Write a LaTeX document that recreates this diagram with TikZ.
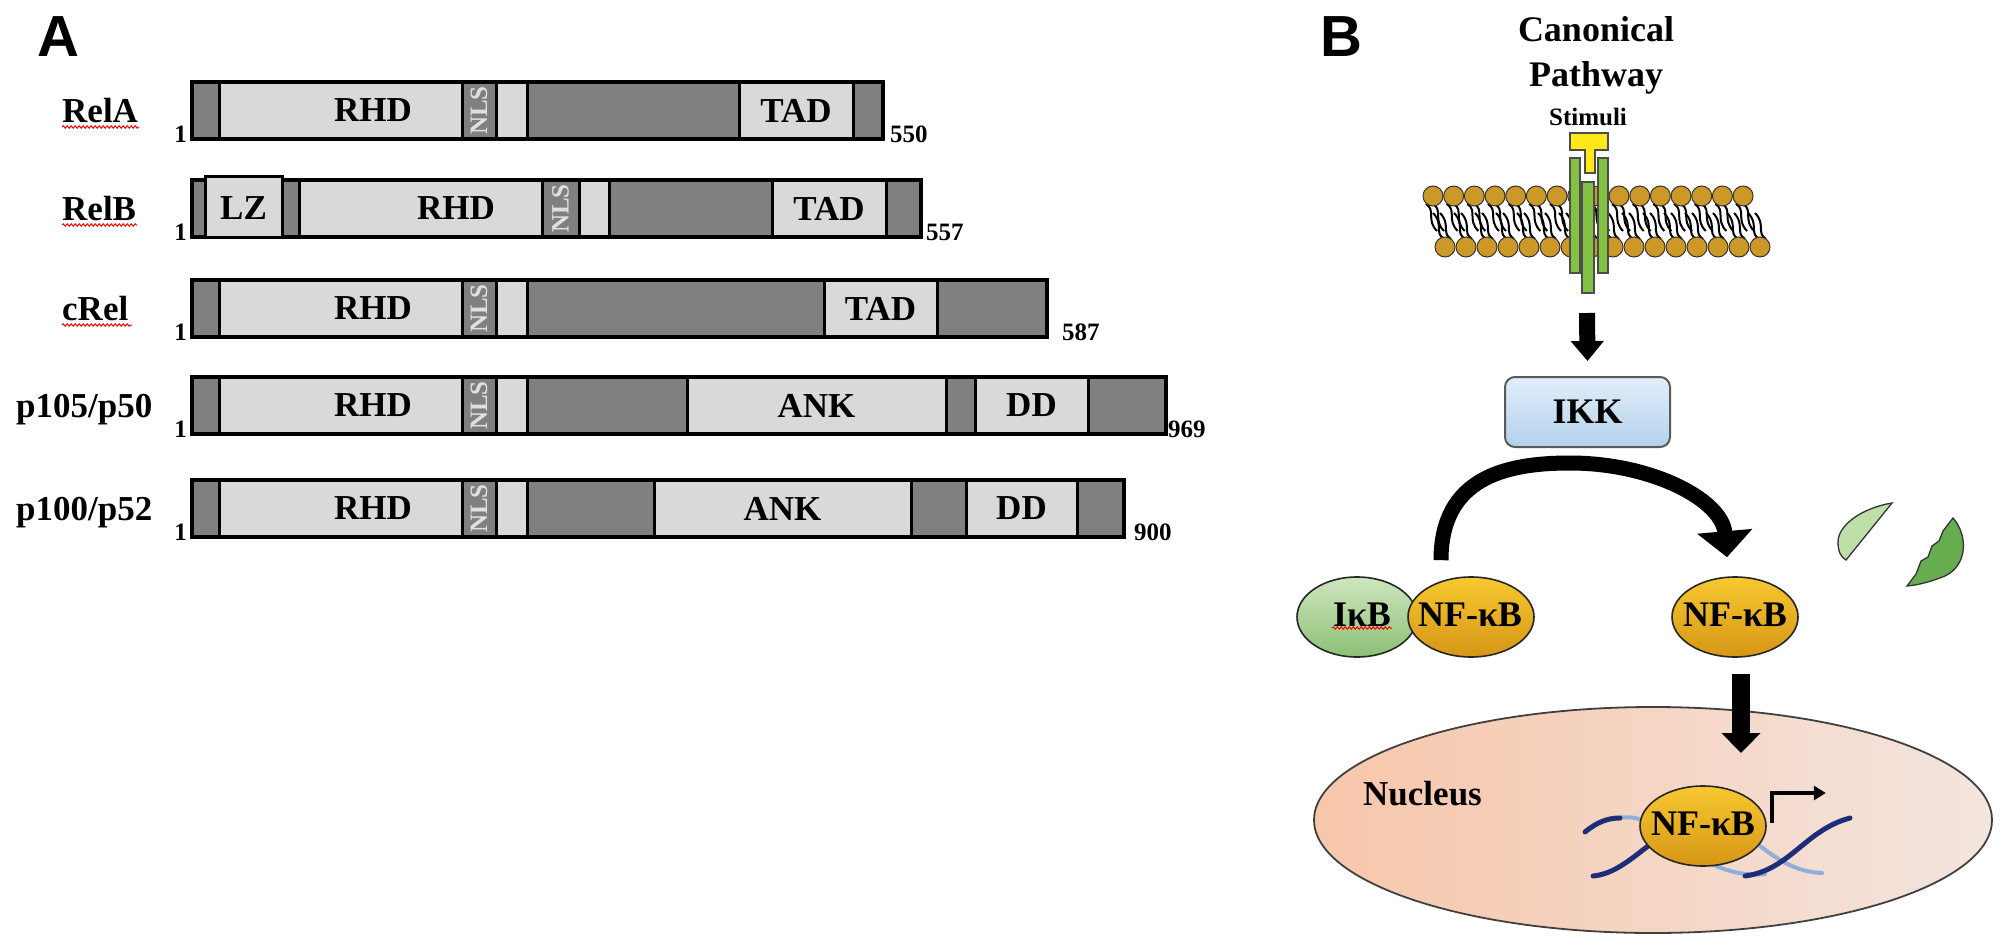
\documentclass[tikz,border=0pt]{standalone}
\usepackage{fontspec}
\setmainfont{Liberation Serif}
\newfontfamily\sansfam{Liberation Sans}
\usetikzlibrary{arrows.meta,shapes.geometric,decorations.pathmorphing,calc}
\definecolor{dkgray}{RGB}{128,128,128}
\definecolor{ltgray}{RGB}{217,217,217}
\definecolor{headc}{RGB}{204,152,40}
\definecolor{recgreen}{RGB}{132,192,66}
\definecolor{stimy}{RGB}{255,232,26}
\definecolor{ikktop}{RGB}{226,238,249}
\definecolor{ikkbot}{RGB}{180,208,236}
\definecolor{goldtop}{RGB}{247,200,48}
\definecolor{goldbot}{RGB}{214,150,22}
\definecolor{gretop}{RGB}{206,230,190}
\definecolor{grebot}{RGB}{140,192,118}
\definecolor{nucL}{RGB}{247,198,170}
\definecolor{nucR}{RGB}{243,229,223}
\definecolor{dnadark}{RGB}{30,45,120}
\definecolor{dnalight}{RGB}{140,175,220}
\definecolor{leafA}{RGB}{190,224,168}
\definecolor{leafB}{RGB}{104,172,80}
\begin{document}
\begin{tikzpicture}[x=1pt,y=-1pt,
  dk/.style={fill=dkgray,draw=black,line width=3pt},
  lt/.style={fill=ltgray,draw=black,line width=3pt},
  frame/.style={draw=black,line width=4pt},
  dom/.style={font=\bfseries\fontsize{35}{40}\selectfont,inner sep=0pt},
  nls/.style={font=\bfseries\fontsize{25}{28}\selectfont,text=white!88!black,inner sep=0pt,rotate=90},
  lbl/.style={font=\bfseries\fontsize{35}{40}\selectfont,inner sep=0pt,anchor=base west},
  numl/.style={font=\bfseries\fontsize{25}{28}\selectfont,inner sep=0pt,anchor=base east},
  numr/.style={font=\bfseries\fontsize{25}{28}\selectfont,inner sep=0pt,anchor=base west},
  panel/.style={font=\sansfam\bfseries\fontsize{58}{60}\selectfont,inner sep=0pt,anchor=base west},
  squig/.style={draw=red,line width=1pt,decorate,decoration={snake,segment length=4pt,amplitude=1.2pt}},
  lhead/.style={circle,fill=headc,draw=black!80,line width=1pt,minimum size=20pt,inner sep=0pt},
  tail/.style={draw=black,line width=2pt},
  rec/.style={fill=recgreen,draw=black!70,line width=1.2pt},
  title/.style={font=\bfseries\fontsize{36}{44}\selectfont,inner sep=0pt,anchor=base},
  ptxt/.style={font=\bfseries\fontsize{36}{40}\selectfont,inner sep=0pt},
  prot/.style={ellipse,inner sep=0pt,draw=black!85,line width=1.6pt},
  gold/.style={prot,minimum width=126pt,minimum height=80pt,top color=goldtop,bottom color=goldbot},
  ikbs/.style={prot,minimum width=120pt,minimum height=80pt,top color=gretop,bottom color=grebot},
  bigarrow/.style={line width=16pt,-{Triangle[width=32pt,length=20pt]}},
  nucarrow/.style={line width=18pt,-{Triangle[width=38pt,length=20pt]}},
  curvearrow/.style={line width=15pt,-{Triangle[width=54pt,length=26pt]}},
  bent/.style={line width=3.5pt,-{Triangle[width=14pt,length=12pt]}},
  dnad/.style={draw=dnadark,line width=5pt,line cap=round},
  dnal/.style={draw=dnalight,line width=4pt,line cap=round}
]
\useasboundingbox (0,0) rectangle (2008,950);
\fill[white] (0,0) rectangle (2008,950);

% ---------------- Panel A ----------------
\node[panel] (A) at (37,57) {A};

% RelA
\foreach \a/\b/\s in {192/219/dk,219/462/lt,462/496/dk,496/527/lt,527/739/dk,739/853/lt,853/883/dk}
  \draw[\s] (\a,82) rectangle (\b,139);
\draw[frame] (192,82) rectangle (883,139);
\node[dom] (rhdA) at (373,110.5) {RHD};
\node[nls] (nlsA) at (479,110.5) {NLS};
\node[dom] (tadA) at (796,110.5) {TAD};
\node[lbl] (relA) at (62,122) {RelA};
\draw[squig] (62,127) -- (139,127);
\node[numl] (sA) at (187,142) {1};
\node[numr] (eA) at (890,142) {550};

% RelB
\foreach \a/\b/\s in {192/205/dk,205/282/lt,282/299/dk,299/542/lt,542/579/dk,579/609/lt,609/772/dk,772/886/lt,886/921/dk}
  \draw[\s] (\a,180) rectangle (\b,237);
\draw[frame] (192,180) rectangle (921,237);
\draw[lt] (205,176) rectangle (282,237);
\node[dom] (lzB) at (243.5,208.5) {LZ};
\node[dom] (rhdB) at (456,208.5) {RHD};
\node[nls] (nlsB) at (560.5,208.5) {NLS};
\node[dom] (tadB) at (829,208.5) {TAD};
\node[lbl] (relB) at (62,220) {RelB};
\draw[squig] (62,225) -- (137,225);
\node[numl] (sB) at (187,240) {1};
\node[numr] (eB) at (926,240) {557};

% cRel
\foreach \a/\b/\s in {192/219/dk,219/462/lt,462/496/dk,496/527/lt,527/824/dk,824/937/lt,937/1047/dk}
  \draw[\s] (\a,280) rectangle (\b,337);
\draw[frame] (192,280) rectangle (1047,337);
\node[dom] (rhdC) at (373,308.5) {RHD};
\node[nls] (nlsC) at (479,308.5) {NLS};
\node[dom] (tadC) at (880.5,308.5) {TAD};
\node[lbl] (crel) at (62,320) {cRel};
\draw[squig] (62,325) -- (132,325);
\node[numl] (sC) at (187,340) {1};
\node[numr] (eC) at (1062,340) {587};

% p105/p50
\foreach \a/\b/\s in {192/219/dk,219/462/lt,462/496/dk,496/527/lt,527/687/dk,687/946/lt,946/975/dk,975/1088/lt,1088/1166/dk}
  \draw[\s] (\a,377) rectangle (\b,434);
\draw[frame] (192,377) rectangle (1166,434);
\node[dom] (rhdD) at (373,405.5) {RHD};
\node[nls] (nlsD) at (479,405.5) {NLS};
\node[dom] (ankD) at (816.5,405.5) {ANK};
\node[dom] (ddD) at (1031.5,405.5) {DD};
\node[lbl] (p105) at (16,417) {p105/p50};
\node[numl] (sD) at (187,437) {1};
\node[numr] (eD) at (1168,437) {969};

% p100/p52
\foreach \a/\b/\s in {192/219/dk,219/462/lt,462/496/dk,496/527/lt,527/654/dk,654/911/lt,911/966/dk,966/1077/lt,1077/1124/dk}
  \draw[\s] (\a,480) rectangle (\b,537);
\draw[frame] (192,480) rectangle (1124,537);
\node[dom] (rhdE) at (373,508.5) {RHD};
\node[nls] (nlsE) at (479,508.5) {NLS};
\node[dom] (ankE) at (782.5,508.5) {ANK};
\node[dom] (ddE) at (1021.5,508.5) {DD};
\node[lbl] (p100) at (16,520) {p100/p52};
\node[numl] (sE) at (187,540) {1};
\node[numr] (eE) at (1134,540) {900};

% ---------------- Panel B ----------------
\node[panel] (B) at (1320,57) {B};
\node[title] (t1) at (1596,42) {Canonical};
\node[title] (t2) at (1596,86) {Pathway};
\node[font=\bfseries\fontsize{25}{28}\selectfont,inner sep=0pt,anchor=base] (stim) at (1588,125) {Stimuli};

% membrane tails
\foreach \i in {0,...,15}{
  \pgfmathsetmacro\xu{1433+20.67*\i}
  \draw[tail] (\xu-7,204) .. controls (\xu+3,210) and (\xu-7,220) .. (\xu+4,231);
  \draw[tail] (\xu,204) .. controls (\xu+10,210) and (\xu,220) .. (\xu+11,231);
  \pgfmathsetmacro\xl{1445+21*\i}
  \draw[tail] (\xl-1,239) .. controls (\xl-11,233) and (\xl-1,224) .. (\xl-12,213);
  \draw[tail] (\xl+6,239) .. controls (\xl-4,233) and (\xl+6,224) .. (\xl-5,213);
}
\foreach \i in {0,...,15}{
  \node[lhead] (hu\i) at (1433+20.67*\i,196) {};
  \node[lhead] (hl\i) at (1445+21*\i,247) {};
}
% receptor
\draw[rec] (1570,158) rectangle (1580,273);
\draw[rec] (1598,158) rectangle (1608,273);
\draw[rec] (1582,182) rectangle (1594,293);
\draw[fill=stimy,draw=black!70,line width=1.2pt] (1570,133) -- (1608,133) -- (1608,150) -- (1595,150) -- (1595,173) -- (1585,173) -- (1585,150) -- (1570,150) -- cycle;
\coordinate (membout) at (1587,313);

% IKK
\node[draw=black!65,line width=2pt,rounded corners=10pt,minimum width=165pt,minimum height=70pt,
      top color=ikktop,bottom color=ikkbot,font=\bfseries\fontsize{36}{40}\selectfont,inner sep=0pt] (ikk) at (1587.5,412) {IKK};
\draw[bigarrow] (membout) -- ([yshift=15pt]ikk.north);

% IkB / NF-kB complex
\node[ikbs] (ikb) at (1357,617) {};
\node[ptxt] (ikbt) at (1362,615) {IκB};
\draw[squig] (1332,628) -- (1392,628);
\node[gold] (nfA) at (1471,617) {};
\node[ptxt] (nfAt) at (1470,615) {NF-κB};

% free NF-kB
\node[gold] (nfB) at (1735,617) {};
\node[ptxt] (nfBt) at (1735,615) {NF-κB};

% curved arrow
\coordinate (arcs) at ([xshift=-30pt,yshift=16pt]nfA.north);
\coordinate (arce) at ([xshift=-8pt,yshift=19pt]nfB.north);
\draw[curvearrow] (arcs) .. controls (1441,478) and (1505,463) .. (1570,463) .. controls (1652,463) and (1722,500) .. (arce);

% degraded IkB fragments
\draw[fill=leafA,draw=black!80,line width=1.3pt] (1892,503) .. controls (1862,508) and (1838,525) .. (1838,542) .. controls (1838,552) and (1841,557) .. (1846,560) -- cycle;
\draw[fill=leafB,draw=black!80,line width=1.3pt] (1953,518) .. controls (1968,535) and (1968,565) .. (1945,576) .. controls (1930,582) and (1918,585) .. (1907,586)
  -- (1916,574) -- (1921,561) -- (1928,557) -- (1932,546) -- (1939,541) -- (1943,531) -- cycle;

% nucleus
\node[ellipse,minimum width=678pt,minimum height=226pt,inner sep=0pt,left color=nucL,right color=nucR,draw=black!75,line width=1.8pt] (nuc) at (1653,820) {};
\node[font=\bfseries\fontsize{35}{40}\selectfont,inner sep=0pt,anchor=base west] (nuct) at (1363,805) {Nucleus};
\draw[nucarrow] ([xshift=6pt,yshift=-16pt]nfB.south) -- (1741,753);

% DNA
\draw[dnal] (1618,818) .. controls (1630,816) and (1640,818) .. (1650,824);
\draw[dnal] (1700,858) .. controls (1725,872) and (1745,876) .. (1765,874);
\draw[dnal] (1755,842) .. controls (1775,858) and (1795,872) .. (1822,873);
\draw[dnad] (1585,832) .. controls (1597,822) and (1608,818) .. (1620,818);
\draw[dnad] (1593,876) .. controls (1615,874) and (1632,858) .. (1652,843);
\draw[dnad] (1745,876) .. controls (1790,870) and (1805,830) .. (1850,818);

\node[gold] (nfC) at (1703,826) {};
\node[ptxt] (nfCt) at (1703,824) {NF-κB};
\draw[bent] ([xshift=5pt,yshift=3pt]nfC.east) |- ++(54,-30);
\end{tikzpicture}
\end{document}
